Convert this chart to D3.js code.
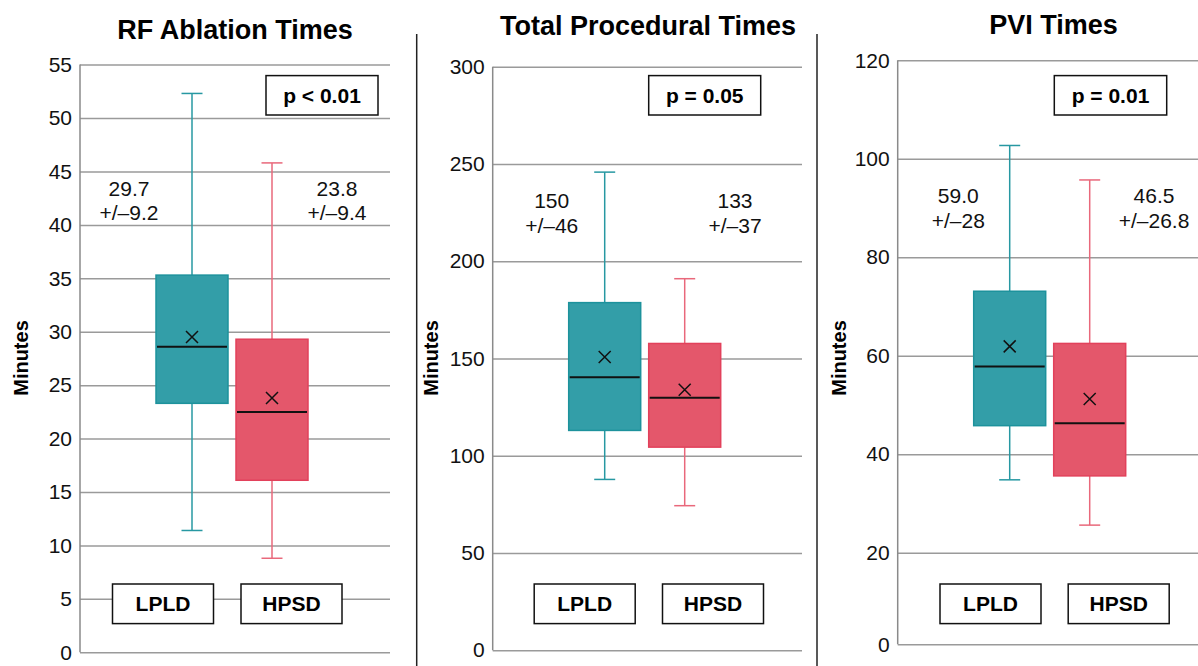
<!DOCTYPE html>
<html>
<head>
<meta charset="utf-8">
<script src="https://cdn.jsdelivr.net/npm/d3@7"></script>
<style>
  html, body { margin: 0; padding: 0; background: #fff; }
  svg { display: block; font-family: "Liberation Sans", Arial, sans-serif; }
</style>
</head>
<body>
<svg id="chart" width="1198" height="666"></svg>
<script>
// ---------- DATA ----------
const categories = ["LPLD", "HPSD"];
const panelTitles = ["RF Ablation Times", "Total Procedural Times", "PVI Times"];
const pValueLabels = ["p < 0.01", "p = 0.05", "p = 0.01"];
const yAxisLabel = "Minutes";

const rfTicks = [0, 5, 10, 15, 20, 25, 30, 35, 40, 45, 50, 55];
const totalTicks = [0, 50, 100, 150, 200, 250, 300];
const pviTicks = [0, 20, 40, 60, 80, 100, 120];

// [whisker low, Q1, median, Q3, whisker high]
const rfLPLD = [11.4, 23.3, 28.6, 35.3, 52.3];
const rfHPSD = [8.8, 16.1, 22.5, 29.3, 45.8];
const totalLPLD = [87.8, 113, 140.3, 178.7, 245.8];
const totalHPSD = [74.3, 104.4, 129.8, 157.7, 191];
const pviLPLD = [34.8, 45.8, 57.8, 73.1, 102.7];
const pviHPSD = [25.6, 35.6, 46.3, 62.5, 95.7];

// mean markers (x)
const rfMeans = [29.5, 23.8];
const totalMeans = [150.7, 133.9];
const pviMeans = [61.9, 51.2];

// annotation text
const rfAnnot = [["29.7", "+/\u20139.2"], ["23.8", "+/\u20139.4"]];
const totalAnnot = [["150", "+/\u201346"], ["133", "+/\u201337"]];
const pviAnnot = [["59.0", "+/\u201328"], ["46.5", "+/\u201326.8"]];

// ---------- STYLE / LAYOUT ----------
const fills = { LPLD: "#339ea8", HPSD: "#e4576b" };
const strokes = { LPLD: "#1d929c", HPSD: "#e2415b" };
const whiskerColors = { LPLD: "#2798a2", HPSD: "#e9687b" };
const FONT_TICK = 21;
const FONT_TXT = 21;

const panels = [
  { title: panelTitles[0], titleX: 235, titleY: 39, p: pValueLabels[0],
    left: 80, right: 390, yDomain: [0, 55], yRange: [652.3, 64.6], ticks: rfTicks,
    data: [rfLPLD, rfHPSD], means: rfMeans, annot: rfAnnot,
    annotX: [49, 257], annotY: [195.5, 220], pBox: [186, 298], labelCenters: [83, 211.5], minutesX: 21 },
  { title: panelTitles[1], titleX: 648, titleY: 35, p: pValueLabels[1],
    left: 492.7, right: 802, yDomain: [0, 300], yRange: [650.2, 66.7], ticks: totalTicks,
    data: [totalLPLD, totalHPSD], means: totalMeans, annot: totalAnnot,
    annotX: [59, 242.3], annotY: [207.5, 232.5], pBox: [156, 268], labelCenters: [92, 220.3], minutesX: 431 },
  { title: panelTitles[2], titleX: 1053.5, titleY: 34, p: pValueLabels[2],
    left: 897.7, right: 1198, yDomain: [0, 20, 120], yRange: [644.3, 552.7, 60.3], ticks: pviTicks,
    data: [pviLPLD, pviHPSD], means: pviMeans, annot: pviAnnot,
    annotX: [60.6, 256.3], annotY: [202.5, 227.5], pBox: [156.6, 269], labelCenters: [92.8, 221], minutesX: 838.5 }
];

const svg = d3.select("#chart");

// separators
[416.7, 817].forEach(x => {
  svg.append("line").attr("x1", x).attr("x2", x).attr("y1", 34).attr("y2", 666)
    .attr("stroke", "#222").attr("stroke-width", 1.5);
});

panels.forEach(P => {
  const g = svg.append("g");
  const y = d3.scaleLinear().domain(P.yDomain).range(P.yRange);
  const x = d3.scalePoint().domain(categories).range([P.left + 112, P.left + 192]);
  const boxW = 72, capW = 21;
  const yTop = y(P.ticks[P.ticks.length - 1]);
  const yBot = y(0);

  // gridlines
  const grid = g.append("g").attr("transform", `translate(${P.left},0)`)
    .call(d3.axisLeft(y).tickValues(P.ticks).tickSize(-(P.right - P.left)).tickFormat(""));
  grid.select(".domain").remove();
  grid.selectAll(".tick line").attr("stroke", "#9a9a9a").attr("stroke-width", 1.5);

  // axis with labels
  const ax = g.append("g").attr("transform", `translate(${P.left},0)`)
    .call(d3.axisLeft(y).tickValues(P.ticks).tickSize(0).tickPadding(8).tickFormat(d3.format("d")));
  ax.select(".domain").attr("stroke", "#8a8a8a").attr("stroke-width", 1.5)
    .attr("d", `M0,${yTop}V${yBot}`);
  ax.selectAll(".tick text").attr("font-size", FONT_TICK).attr("fill", "#111")
    .attr("font-family", "Liberation Sans, Arial, sans-serif");

  // title
  g.append("text").attr("x", P.titleX).attr("y", P.titleY).attr("text-anchor", "middle")
    .attr("font-size", 27).attr("font-weight", "bold").attr("fill", "#000").text(P.title);

  // y label
  g.append("text").attr("transform", `translate(${P.minutesX + 7},358) rotate(-90)`)
    .attr("text-anchor", "middle").attr("font-size", 20).attr("font-weight", "bold")
    .attr("fill", "#000").text(yAxisLabel);

  // p-value box
  g.append("rect").attr("x", P.left + P.pBox[0]).attr("y", 75.6)
    .attr("width", P.pBox[1] - P.pBox[0]).attr("height", 39.4)
    .attr("fill", "#fff").attr("stroke", "#111").attr("stroke-width", 1.5);
  g.append("text").attr("x", P.left + (P.pBox[0] + P.pBox[1]) / 2).attr("y", 102.5)
    .attr("text-anchor", "middle").attr("font-size", FONT_TXT).attr("font-weight", "bold")
    .attr("fill", "#000").text(P.p);

  // annotations
  P.annot.forEach((lines, i) => {
    lines.forEach((t, j) => {
      g.append("text").attr("x", P.left + P.annotX[i]).attr("y", P.annotY[j])
        .attr("text-anchor", "middle").attr("font-size", FONT_TXT).attr("fill", "#111").text(t);
    });
  });

  // boxes
  categories.forEach((c, i) => {
    const d = P.data[i];
    const cx = x(c);
    g.append("line").attr("x1", cx).attr("x2", cx).attr("y1", y(d[4])).attr("y2", y(d[3]))
      .attr("stroke", whiskerColors[c]).attr("stroke-width", 1.5);
    g.append("line").attr("x1", cx).attr("x2", cx).attr("y1", y(d[1])).attr("y2", y(d[0]))
      .attr("stroke", whiskerColors[c]).attr("stroke-width", 1.5);
    [d[0], d[4]].forEach(v => {
      g.append("line").attr("x1", cx - capW / 2).attr("x2", cx + capW / 2)
        .attr("y1", y(v)).attr("y2", y(v))
        .attr("stroke", whiskerColors[c]).attr("stroke-width", 1.5);
    });
    g.append("rect").attr("x", cx - boxW / 2).attr("y", y(d[3]))
      .attr("width", boxW).attr("height", y(d[1]) - y(d[3]))
      .attr("fill", fills[c]).attr("stroke", strokes[c]).attr("stroke-width", 1.5);
    g.append("line").attr("x1", cx - boxW / 2 + 1).attr("x2", cx + boxW / 2 - 1)
      .attr("y1", y(d[2])).attr("y2", y(d[2])).attr("stroke", "#111").attr("stroke-width", 2);
    const my = y(P.means[i]), s = 6;
    g.append("path").attr("d", `M${cx - s},${my - s}L${cx + s},${my + s}M${cx - s},${my + s}L${cx + s},${my - s}`)
      .attr("stroke", "#111").attr("stroke-width", 1.5).attr("fill", "none");
  });

  // category label boxes
  categories.forEach((c, i) => {
    const lx = P.left + P.labelCenters[i];
    g.append("rect").attr("x", lx - 50.5).attr("y", 584).attr("width", 101).attr("height", 39.6)
      .attr("fill", "#fff").attr("stroke", "#111").attr("stroke-width", 1.5);
    g.append("text").attr("x", lx).attr("y", 611).attr("text-anchor", "middle")
      .attr("font-size", FONT_TXT).attr("font-weight", "bold").attr("fill", "#000").text(c);
  });
});
</script>
</body>
</html>
